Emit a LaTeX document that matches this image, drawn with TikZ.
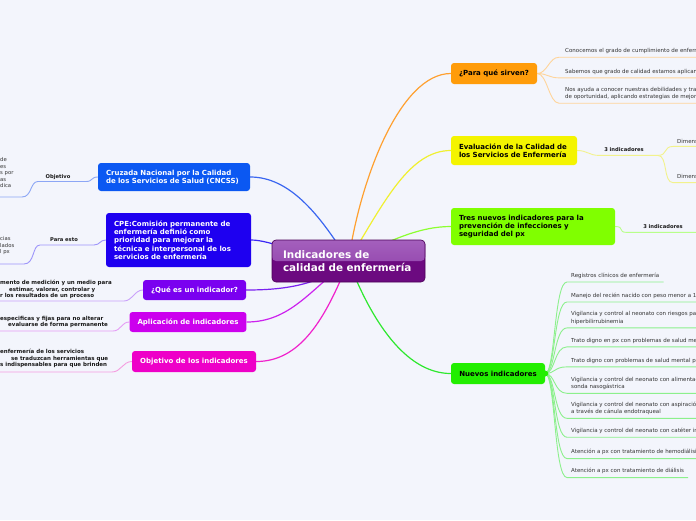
\documentclass[tikz,border=0pt]{standalone}
\usepackage{fontspec}
\setmainfont{DejaVu Sans}
\usetikzlibrary{backgrounds}
\pgfdeclarelayer{edges}
\pgfsetlayers{background,edges,main}

\definecolor{bgcol}{HTML}{F3F5FC}
\definecolor{rootdark}{HTML}{6C0A80}
\definecolor{rootmid}{HTML}{8C3AA6}
\definecolor{rootlight}{HTML}{A460BD}
\definecolor{rootborder}{HTML}{4B0057}
\definecolor{cruzcol}{HTML}{0B58F2}
\definecolor{cpecol}{HTML}{1E00F0}
\definecolor{quecol}{HTML}{7A00F0}
\definecolor{aplcol}{HTML}{CC00EE}
\definecolor{objcol}{HTML}{EE00C8}
\definecolor{paracol}{HTML}{FF9C0A}
\definecolor{evalcol}{HTML}{F4F400}
\definecolor{trescol}{HTML}{80FF00}
\definecolor{nuevcol}{HTML}{22EE00}
% connector colours
\definecolor{cruzline}{HTML}{3A66F0}
\definecolor{cpeline}{HTML}{3C28F5}
\definecolor{queline}{HTML}{7A22F0}
\definecolor{aplline}{HTML}{CC22EE}
\definecolor{objline}{HTML}{F022CC}
\definecolor{paraline}{HTML}{FFA030}
\definecolor{evalline}{HTML}{F0F030}
\definecolor{tresline}{HTML}{8CFF30}
\definecolor{nuevline}{HTML}{2EE82E}
\definecolor{cruzsub}{HTML}{8CA6F5}
\definecolor{cpesub}{HTML}{9C94FA}
\definecolor{quesub}{HTML}{C9A0FA}
\definecolor{aplsub}{HTML}{E59CF5}
\definecolor{objsub}{HTML}{F59CE0}
\definecolor{parasub}{HTML}{FFD49A}
\definecolor{evalsub}{HTML}{F2F28C}
\definecolor{tressub}{HTML}{B8FF8A}
\definecolor{nuevsub}{HTML}{8CF08C}

\tikzstyle{topic} = [rectangle, rounded corners=3pt, inner xsep=8pt, inner ysep=0pt, text=white, align=left, font=\fontsize{7}{8.3}\selectfont\bfseries]
\tikzstyle{darktopic} = [topic, text=black]
\tikzstyle{rootbox} = [rectangle, rounded corners=4pt, draw=rootborder, line width=0.6pt, fill=rootdark, text=white, align=left, inner xsep=11pt, text width=131pt, minimum height=42pt, font=\fontsize{10.4}{13}\selectfont\bfseries, path picture={\fill[top color=rootlight, bottom color=rootmid] (path picture bounding box.north west) rectangle (path picture bounding box.east);}]
\tikzstyle{itemtext} = [inner sep=0pt, anchor=west, align=left, text=black!80, font=\fontsize{5.5}{7.5}\selectfont]
\tikzstyle{notetext} = [inner sep=0pt, anchor=west, align=left, text=black!90, font=\fontsize{5.5}{6.6}\selectfont\bfseries]
\tikzstyle{tagtext} = [inner sep=0pt, text=black!90, font=\fontsize{5.2}{6}\selectfont\bfseries]
\tikzstyle{mainlink} = [line width=1.2pt]
\tikzstyle{sublink} = [line width=0.9pt]

\begin{document}
\begin{tikzpicture}[x=1pt,y=-1pt]
\useasboundingbox (0,0) rectangle (696,520);
\begin{pgfonlayer}{background}
\fill[bgcol] (0,0) rectangle (696,520);
\end{pgfonlayer}

% central topic
\node[rootbox] (root) at (348.5,261) {Indicadores de\\calidad de enfermería};

% left topics
\node[topic, fill=cruzcol, text width=136pt, minimum height=28pt] (cruz) at (174,177) {Cruzada Nacional por la Calidad\\de los Servicios de Salud (CNCSS)};
\node[topic, fill=cpecol, text width=129pt, minimum height=54pt] (cpe) at (178.5,240) {CPE:Comisión permanente de\\enfermería definió como\\prioridad para mejorar la\\técnica e interpersonal de los\\servicios de enfermería};
\node[topic, fill=quecol, minimum width=103pt, minimum height=20pt] (que) at (194.5,290) {¿Qué es un indicador?};
\node[topic, fill=aplcol, minimum width=116pt, minimum height=20pt] (apl) at (188,322) {Aplicación de indicadores};
\node[topic, fill=objcol, minimum width=124pt, minimum height=21pt] (obj) at (194,361.5) {Objetivo de los indicadores};

% right topics
\node[darktopic, fill=paracol, minimum width=86pt, minimum height=21pt] (para) at (494,73.5) {¿Para qué sirven?};
\node[darktopic, fill=evalcol, text width=110pt, minimum height=29pt] (eval) at (514,150.5) {Evaluación de la Calidad de\\los Servicios de Enfermería};
\node[darktopic, fill=trescol, text width=148pt, minimum height=37pt] (tres) at (533,226.5) {Tres nuevos indicadores para la\\prevención de infecciones y\\seguridad del px};
\node[darktopic, fill=nuevcol, minimum width=94pt, minimum height=21pt] (nuev) at (498,373.5) {Nuevos indicadores};
\fill[nuevcol] (nuev.east) circle (3pt);

% left notes
\node[tagtext] (lobj) at (58,177) {Objetivo};
\node[tagtext] (lpara) at (64,240) {Para esto};
\node[itemtext, font=\fontsize{5.3}{6.5}\selectfont] (tobj) at (0,173) {de\\es\\s por\\as\\dica};
\node[itemtext, font=\fontsize{5.3}{6.5}\selectfont] (tpara) at (0,246) {cias\\lados\\l px};
\node[notetext] (tque) at (0,289.5) {mento de medición y un medio para\\\hspace*{9pt}estimar, valorar, controlar y\\r los resultados de un proceso};
\node[notetext] (tapl) at (0,322) {especificas y fijas para no alterar\\\hspace*{8pt}evaluarse de forma permanente};
\node[notetext] (tobji) at (0,358.7) {enfermería de los servicios\\\hspace*{11pt}se traduzcan herramientas que\\s indispensables para que brinden};
\coordinate (eobj) at (-2,197);
\coordinate (epara) at (-2,264);
\coordinate (eque) at (-2,301);
\coordinate (eapl) at (-2,331);
\coordinate (eobji) at (-2,372);

% right notes
\foreach \i/\y/\txt in {1/51/{Conocemos el grado de cumplimiento de enfermería},
  2/71.7/{Sabemos que grado de calidad estamos aplicando},
  3/93.3/{Nos ayuda a conocer nuestras debilidades y transformarlas\\de oportunidad, aplicando estrategias de mejora}}
  \node[itemtext] (pq\i) at (565,\y) {\txt};
\node[tagtext] (ev3) at (624,150) {3 indicadores};
\node[itemtext] (dim1) at (677,141) {Dimensión técnica};
\node[itemtext] (dim2) at (677,176.7) {Dimensión interpersonal};
\node[tagtext] (tr3) at (663,227) {3 indicadores};
\foreach \i/\y/\txt in {1/275.7/{Registros clínicos de enfermería},
  2/295.7/{Manejo del recién nacido con peso menor a 1500 g},
  3/318/{Vigilancia y control al neonato con riesgos para\\hiperbilirrubinemia},
  4/340.7/{Trato digno en px con problemas de salud mental},
  5/360.7/{Trato digno con problemas de salud mental px},
  6/383.3/{Vigilancia y control del neonato con alimentación por\\sonda nasogástrica},
  7/408.3/{Vigilancia y control del neonato con aspiración de secreciones\\a través de cánula endotraqueal},
  8/431/{Vigilancia y control del neonato con catéter intravenoso},
  9/452.3/{Atención a px con tratamiento de hemodiálisis},
  10/471.3/{Atención a px con tratamiento de diálisis}}
  \node[itemtext] (ni\i) at (571,\y) {\txt};

% connectors
\begin{pgfonlayer}{edges}
\draw[mainlink, cruzline] (root.center) .. controls (320,215) and (290,177) .. (cruz.east);
\draw[mainlink, cpeline] (root.center) .. controls (300,255) and (270,240) .. (cpe.east);
\draw[mainlink, queline] (root.center) .. controls (320,285) and (285,290) .. (que.east);
\draw[mainlink, aplline] (root.center) .. controls (310,290) and (290,322) .. (apl.east);
\draw[mainlink, objline] (root.center) .. controls (325,320) and (300,361.5) .. (obj.east);
\draw[mainlink, paraline] (root.center) .. controls (360,180) and (400,73.5) .. (para.west);
\draw[mainlink, evalline] (root.center) .. controls (385,200) and (410,150.5) .. (eval.west);
\draw[mainlink, tresline] (root.center) .. controls (390,240) and (420,226.5) .. (tres.west);
\draw[mainlink, nuevline] (root.center) .. controls (375,330) and (410,373.5) .. (nuev.west);

\draw[sublink, cruzsub] (cruz.west) .. controls +(-7,0) and +(7,0) .. (86,181.5) -- (38,181.5)
  .. controls (30,181.5) and (32,197) .. (22,197) -- (eobj);
\draw[sublink, cpesub] (cpe.west) .. controls +(-6,0) and +(6,0) .. (94,245) -- (40,245)
  .. controls (32,245) and (35,264) .. (24,264) -- (epara);
\draw[sublink, quesub] (que.west) .. controls +(-8,0) and +(8,0) .. (124,301) -- (eque);
\draw[sublink, aplsub] (apl.west) .. controls +(-8,0) and +(8,0) .. (113,331) -- (eapl);
\draw[sublink, objsub] (obj.west) .. controls +(-9,0) and +(9,0) .. (112,372) -- (eobji);

\foreach \i in {1,2,3}
  \draw[sublink, parasub] (para.east) .. controls +(10,0) and +(-10,0) .. ([xshift=-6pt,yshift=-3.3pt]pq\i.south west) -- ([xshift=4pt,yshift=-3.3pt]pq\i.south east);
\draw[sublink, evalsub] (eval.east) .. controls +(10,0) and +(-10,0) .. ([xshift=-5pt,yshift=-3.2pt]ev3.south west) -- ([xshift=14pt,yshift=-3.2pt]ev3.south east) coordinate (evsplit);
\foreach \d in {dim1,dim2}
  \draw[sublink, evalsub] (evsplit) .. controls +(10,0) and +(-10,0) .. ([xshift=-4pt,yshift=-3pt]\d.south west) -- ([xshift=4pt,yshift=-3pt]\d.south east);
\draw[sublink, tressub] (tres.east) .. controls +(10,0) and +(-10,0) .. ([xshift=-16pt,yshift=-3.2pt]tr3.south west) -- ([xshift=40pt,yshift=-3.2pt]tr3.south east);
\foreach \i in {1,...,10}
  \draw[sublink, nuevsub] (nuev.east) .. controls +(10,0) and +(-13,0) .. ([xshift=-4pt,yshift=-3.3pt]ni\i.south west) -- ([xshift=4pt,yshift=-3.3pt]ni\i.south east);
\end{pgfonlayer}
\end{tikzpicture}
\end{document}
